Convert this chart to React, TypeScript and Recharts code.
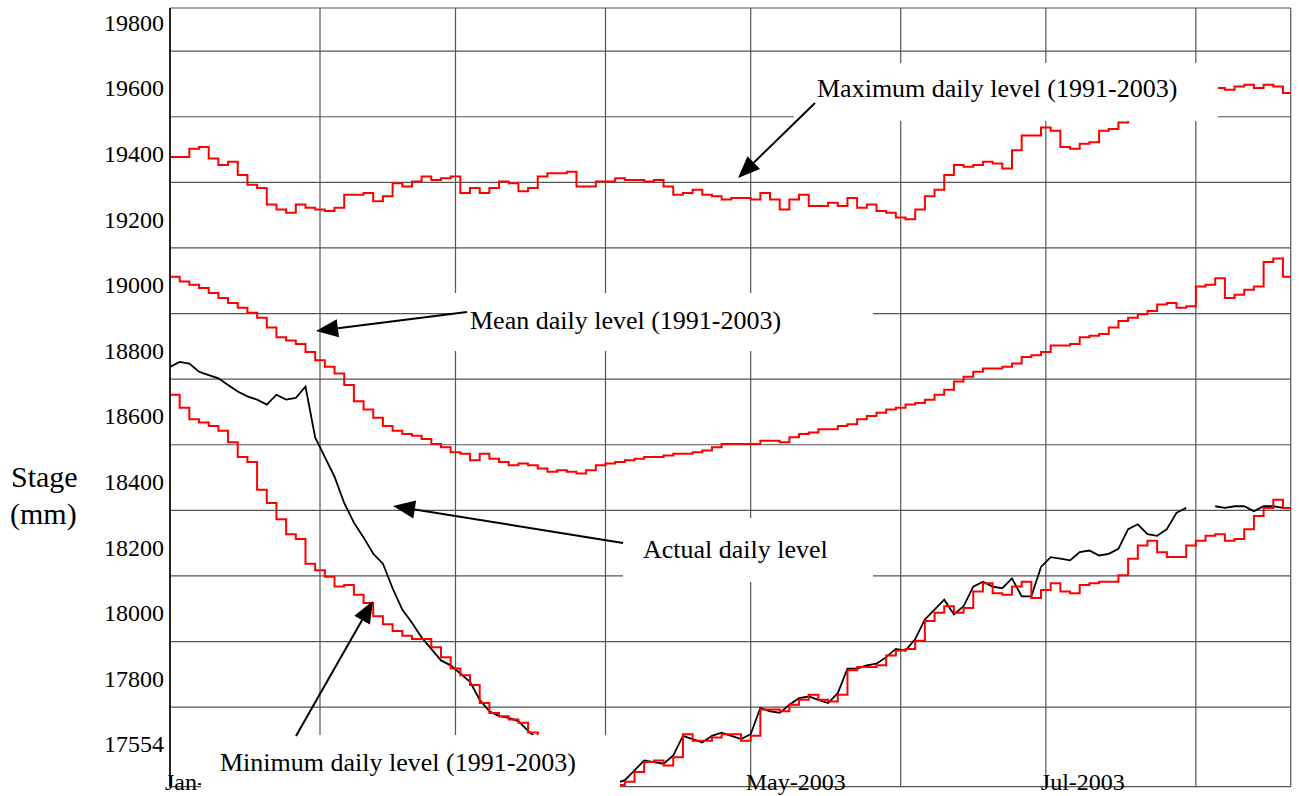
import React from 'react';
import { LineChart, Line, XAxis, YAxis, CartesianGrid } from 'recharts';

// day of year (0 = 1 Jan 2003), read every 2 days
const days = [
  0, 2, 4, 6, 8, 10, 12, 14, 16, 18, 20, 22, 24, 26, 28, 30, 32, 34, 36, 38,
  40, 42, 44, 46, 48, 50, 52, 54, 56, 58, 60, 62, 64, 66, 68, 70, 72, 74, 76, 78,
  80, 82, 84, 86, 88, 90, 92, 94, 96, 98, 100, 102, 104, 106, 108, 110, 112, 114, 116, 118,
  120, 122, 124, 126, 128, 130, 132, 134, 136, 138, 140, 142, 144, 146, 148, 150, 152, 154, 156, 158,
  160, 162, 164, 166, 168, 170, 172, 174, 176, 178, 180, 182, 184, 186, 188, 190, 192, 194, 196, 198,
  200, 202, 204, 206, 208, 210, 212, 214, 216, 218, 220, 222, 224, 226, 228, 230, 232,
];

const maxLevel = [
  19390, 19390, 19415, 19420, 19385, 19365, 19375, 19335, 19305, 19295,
  19245, 19230, 19220, 19245, 19235, 19230, 19225, 19235, 19275, 19275,
  19280, 19255, 19270, 19310, 19300, 19315, 19330, 19320, 19325, 19330,
  19280, 19295, 19280, 19295, 19315, 19310, 19285, 19295, 19330, 19340,
  19340, 19345, 19300, 19300, 19315, 19315, 19325, 19320, 19320, 19315,
  19320, 19300, 19275, 19280, 19290, 19275, 19270, 19260, 19265, 19265,
  19260, 19280, 19260, 19230, 19260, 19275, 19240, 19240, 19250, 19240,
  19265, 19235, 19245, 19225, 19220, 19205, 19200, 19230, 19270, 19290,
  19335, 19365, 19360, 19365, 19375, 19370, 19355, 19410, 19455, 19455,
  19480, 19470, 19420, 19415, 19430, 19435, 19470, 19475, 19495, 19510,
  19530, 19540, 19545, 19555, 19560, 19575, 19580, 19590, 19600, 19595,
  19605, 19610, 19600, 19610, 19605, 19585, 19600,
];

const meanLevel = [
  19025, 19010, 19000, 18990, 18975, 18960, 18945, 18930, 18915, 18900,
  18870, 18840, 18830, 18820, 18795, 18770, 18750, 18730, 18695, 18645,
  18620, 18595, 18570, 18555, 18545, 18540, 18530, 18515, 18505, 18490,
  18485, 18465, 18485, 18470, 18460, 18450, 18455, 18450, 18440, 18430,
  18435, 18430, 18425, 18435, 18450, 18455, 18460, 18465, 18470, 18475,
  18475, 18480, 18485, 18485, 18490, 18495, 18505, 18515, 18515, 18515,
  18515, 18525, 18525, 18520, 18535, 18545, 18550, 18560, 18560, 18570,
  18575, 18590, 18600, 18610, 18620, 18625, 18635, 18640, 18650, 18665,
  18680, 18705, 18720, 18735, 18745, 18745, 18750, 18760, 18780, 18785,
  18795, 18815, 18815, 18820, 18840, 18845, 18850, 18870, 18890, 18900,
  18910, 18920, 18940, 18945, 18930, 18935, 18995, 19000, 19020, 18960,
  18970, 18985, 18995, 19070, 19080, 19025, 19090,
];

const minLevel = [
  18665, 18625, 18590, 18580, 18570, 18555, 18520, 18475, 18460, 18375,
  18335, 18285, 18240, 18225, 18150, 18130, 18110, 18080, 18085, 18055,
  18030, 17990, 17965, 17945, 17930, 17920, 17920, 17895, 17865, 17830,
  17810, 17780, 17725, 17695, 17685, 17675, 17665, 17635, 17610, 17585,
  17560, 17530, 17510, 17495, 17485, 17480, 17475, 17485, 17515, 17545,
  17550, 17535, 17560, 17630, 17610, 17610, 17620, 17630, 17630, 17610,
  17625, 17705, 17705, 17700, 17720, 17735, 17750, 17735, 17730, 17750,
  17825, 17835, 17835, 17840, 17870, 17885, 17890, 17915, 17975, 18000,
  18020, 18000, 18015, 18065, 18090, 18060, 18055, 18080, 18095, 18045,
  18070, 18090, 18065, 18060, 18085, 18090, 18095, 18095, 18115, 18165,
  18205, 18220, 18185, 18170, 18170, 18205, 18220, 18235, 18240, 18220,
  18225, 18255, 18295, 18320, 18345, 18320, 18365,
];

const actualLevel = [
  18750, 18765, 18760, 18735, 18725, 18715, 18695, 18675, 18660, 18650,
  18635, 18665, 18650, 18655, 18690, 18535, 18475, 18415, 18335, 18275,
  18230, 18180, 18150, 18075, 18010, 17970, 17925, 17890, 17855, 17840,
  17815, 17790, 17735, 17700, 17685, 17680, 17670, 17640, 17615, 17590,
  17565, 17535, 17515, 17500, 17490, 17485, 17480, 17490, 17520, 17550,
  17545, 17540, 17565, 17625, 17615, 17605, 17625, 17635, 17625, 17615,
  17630, 17710, 17700, 17695, 17720, 17740, 17745, 17735, 17725, 17755,
  17830, 17830, 17840, 17845, 17865, 17890, 17885, 17920, 17980, 18010,
  18040, 17995, 18020, 18080, 18095, 18080, 18075, 18105, 18050, 18050,
  18140, 18170, 18165, 18160, 18185, 18190, 18175, 18180, 18195, 18255,
  18270, 18240, 18235, 18255, 18305, 18320, null, null, 18325, 18320,
  18325, 18325, 18310, 18325, 18325, 18320, 18320,
];

const yTicks = [19800, 19600, 19400, 19200, 19000, 18800, 18600, 18400, 18200, 18000, 17800, 17600];
const yTickLabels = ['19800', '19600', '19400', '19200', '19000', '18800', '18600', '18400', '18200', '18000', '17800', '17554'];
const gridLevels = [19712.5, 19512.5, 19312.5, 19112.5, 18912.5, 18712.5, 18512.5, 18312.5, 18112.5, 17912.5, 17712.5];
const monthStarts = [0, 31, 59, 90, 120, 151, 181, 212];
// only the label parts left visible in the picture (the rest sits under the "Minimum" box)
const monthLabels = ['Jan-', '', '', '', 'May-2003', '', 'Jul-2003', ''];

const Y_DOMAIN: [number, number] = [17470, 19844];
const X_DOMAIN: [number, number] = [0, 231.6];
const FONT = '"Liberation Serif", "Times New Roman", serif';

const data = days.map((d, i) => ({
  day: d,
  max: maxLevel[i],
  mean: meanLevel[i],
  min: minLevel[i],
  actual: actualLevel[i],
}));

// annotation boxes (white label boxes with arrows), pixel layout
const notes = [
  { text: 'Maximum daily level (1991-2003)', box: [794, 63, 424, 58], tx: 817, ty: 97, from: [815, 103], to: [738, 178] },
  { text: 'Mean daily level (1991-2003)', box: [450, 293, 423, 58], tx: 470, ty: 329, from: [467, 312], to: [316, 331] },
  { text: 'Actual daily level', box: [623, 518, 250, 64], tx: 643, ty: 558, from: [623, 543], to: [393, 506] },
  { text: 'Minimum daily level (1991-2003)', box: [201, 735, 419, 61], tx: 220, ty: 771, from: [296, 736], to: [373, 601] },
];

const YTick = ({ x, y, payload }: any) => {
  const i = yTicks.indexOf(payload.value);
  return (
    <text x={x - 6} y={y} dy="0.35em" textAnchor="end" fontSize={24} fontFamily={FONT} fill="#000">
      {yTickLabels[i]}
    </text>
  );
};

const XTick = ({ x, y, payload }: any) => {
  const i = monthStarts.indexOf(payload.value);
  if (i < 0 || !monthLabels[i]) return <g />;
  return (
    <text x={x - 5} y={y + 3} textAnchor="start" fontSize={24} fontFamily={FONT} fill="#000">
      {monthLabels[i]}
    </text>
  );
};

function Arrow({ from, to }: { from: number[]; to: number[] }) {
  const [x1, y1] = from;
  const [x2, y2] = to;
  const a = Math.atan2(y2 - y1, x2 - x1);
  const len = 22;
  const hw = 9;
  const bx = x2 - len * Math.cos(a);
  const by = y2 - len * Math.sin(a);
  const px = -Math.sin(a) * hw;
  const py = Math.cos(a) * hw;
  return (
    <g>
      <line x1={x1} y1={y1} x2={bx} y2={by} stroke="#000" strokeWidth={2} />
      <polygon points={`${x2},${y2} ${bx + px},${by + py} ${bx - px},${by - py}`} fill="#000" />
    </g>
  );
}

export default function App() {
  return (
    <div style={{ position: 'absolute', left: 0, top: 0, width: 1299, height: 796, background: '#fff', overflow: 'hidden' }}>
      <LineChart width={1299} height={796} data={data} margin={{ top: 8, right: 8.3, bottom: 0.3, left: 0 }}>
        <CartesianGrid
          stroke="#555"
          strokeWidth={1.2}
          horizontalValues={[Y_DOMAIN[1], ...gridLevels, Y_DOMAIN[0]]}
          verticalValues={[...monthStarts, X_DOMAIN[1]]}
        />
        <XAxis
          dataKey="day"
          type="number"
          domain={X_DOMAIN}
          allowDataOverflow
          ticks={monthStarts}
          tick={<XTick />}
          tickLine={false}
          axisLine={false}
          tickSize={0}
          tickMargin={0}
          height={9}
          interval={0}
        />
        <YAxis
          type="number"
          domain={Y_DOMAIN}
          allowDataOverflow
          ticks={yTicks}
          tick={<YTick />}
          tickLine={false}
          tickSize={0}
          tickMargin={0}
          width={170}
          interval={0}
          axisLine={{ stroke: '#000', strokeWidth: 1.5 }}
        />
        <Line type="linear" dataKey="actual" stroke="#000" strokeWidth={1.8} dot={false} connectNulls={false} isAnimationActive={false} />
        <Line type="stepAfter" dataKey="max" stroke="#ff0000" strokeWidth={2} dot={false} isAnimationActive={false} />
        <Line type="stepAfter" dataKey="mean" stroke="#ff0000" strokeWidth={2} dot={false} isAnimationActive={false} />
        <Line type="stepAfter" dataKey="min" stroke="#ff0000" strokeWidth={2} dot={false} isAnimationActive={false} />
      </LineChart>
      <svg width={1299} height={796} style={{ position: 'absolute', left: 0, top: 0, pointerEvents: 'none' }}>
        <text x={11} y={487} fontSize={30} fontFamily={FONT} fill="#000">Stage</text>
        <text x={10} y={524} fontSize={30} fontFamily={FONT} fill="#000">(mm)</text>
        {notes.map((n) => (
          <g key={n.text}>
            <rect x={n.box[0]} y={n.box[1]} width={n.box[2]} height={n.box[3]} fill="#fff" />
            <text x={n.tx} y={n.ty} fontSize={26} fontFamily={FONT} fill="#000">{n.text}</text>
            <Arrow from={n.from} to={n.to} />
          </g>
        ))}
      </svg>
    </div>
  );
}
